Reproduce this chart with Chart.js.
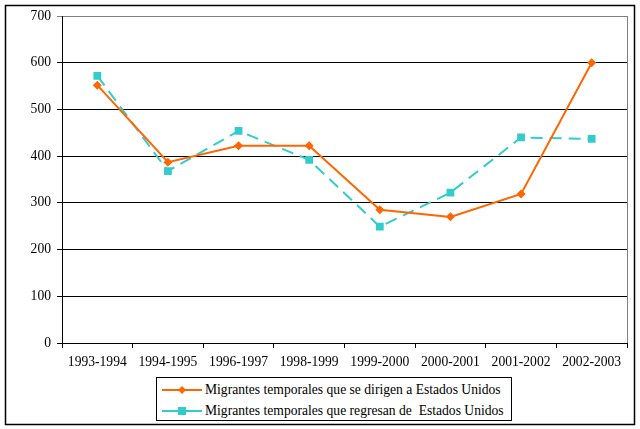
<!DOCTYPE html>
<html>
<head>
<meta charset="utf-8">
<script src="https://cdn.jsdelivr.net/npm/chart.js@4.4.0/dist/chart.umd.min.js"></script>
<style>
  body { margin: 0; background: #fff; }
  #wrap { position: relative; width: 640px; height: 429px; }
  #legend {
    position: absolute; left: 156px; top: 377px; width: 356px; height: 44px;
    border: 1px solid #000; box-sizing: border-box; background: #fff;
    font-family: "Liberation Serif", "DejaVu Serif", serif; font-size: 13.6px; color: #000;
  }
  #legend .row { position: absolute; left: 5px; height: 18px; display: flex; align-items: center; white-space: pre; }
  #legend svg { margin-right: 3px; }
</style>
</head>
<body>
<div id="wrap">
  <canvas id="lineChart" width="640" height="429"></canvas>
  <div id="legend"></div>
</div>
<script>
var categories = ["1993-1994", "1994-1995", "1996-1997", "1998-1999", "1999-2000", "2000-2001", "2001-2002", "2002-2003"];
var seriesNames = ["Migrantes temporales que se dirigen a Estados Unidos", "Migrantes temporales que regresan de  Estados Unidos"];
var dirigen = [552, 387, 422, 422, 285, 270, 319, 600];
var regresan = [572, 368, 454, 392, 249, 322, 440, 437];
var yTicks = [0, 100, 200, 300, 400, 500, 600, 700];

var orange = "#FF6600";
var cyan = "#33CCCC";
var fontFamily = "'Liberation Serif', 'DejaVu Serif', serif";

// frame round the whole picture + gray right edge of the plot
var framePlugin = {
    id: "frame",
    afterDraw: function (chart) {
        var c = chart.ctx, a = chart.chartArea;
        c.save();
        c.strokeStyle = "#808080";
        c.lineWidth = 1;
        c.beginPath();
        c.moveTo(Math.round(a.right) + 0.5, a.top);
        c.lineTo(Math.round(a.right) + 0.5, a.bottom);
        c.stroke();
        c.strokeStyle = "#000";
        c.lineWidth = 1.5;
        c.strokeRect(5.5, 5.5, 629, 419);
        c.restore();
    }
};

var ctx = document.getElementById("lineChart").getContext("2d");
var lineChart = new Chart(ctx, {
    type: "line",
    data: {
        labels: categories,
        datasets: [
            {
                label: seriesNames[0],
                data: dirigen,
                borderColor: orange,
                backgroundColor: orange,
                borderWidth: 2,
                pointStyle: "rectRot",
                pointRadius: 4.5,
                pointBorderWidth: 0,
                tension: 0,
                order: 1
            },
            {
                label: seriesNames[1],
                data: regresan,
                borderColor: cyan,
                backgroundColor: cyan,
                borderWidth: 2,
                borderDash: [12, 7],
                pointStyle: "rect",
                pointRadius: 5.5,
                pointBorderWidth: 0,
                tension: 0,
                order: 2
            }
        ]
    },
    options: {
        responsive: false,
        animation: false,
        layout: { padding: { left: 0, top: 16, right: 13, bottom: 0 } },
        plugins: { legend: { display: false }, tooltip: { enabled: false } },
        scales: {
            x: {
                offset: true,
                grid: { display: true, drawOnChartArea: false, drawTicks: true, tickLength: 5, color: "#000", offset: true },
                border: { color: "#000", width: 1 },
                ticks: { color: "#000", font: { family: fontFamily, size: 13.6 }, padding: 6, maxRotation: 0, autoSkip: false },
                afterFit: function (s) { s.height = 86; }
            },
            y: {
                min: 0,
                max: 700,
                afterBuildTicks: function (s) { s.ticks = yTicks.map(function (v) { return { value: v }; }); },
                grid: {
                    color: function (c) { return c.tick && c.tick.value === 700 ? "#808080" : "#000"; },
                    lineWidth: 1,
                    tickLength: 5
                },
                border: { color: "#000", width: 1 },
                ticks: { color: "#000", font: { family: fontFamily, size: 13.6 }, padding: 6 },
                afterFit: function (s) { s.width = 62; }
            }
        }
    },
    plugins: [framePlugin]
});

// legend as html, line sample with marker in the middle
var legend = document.getElementById("legend");
var marks = [
    '<polygon points="20,5 24,9 20,13 16,9" fill="' + orange + '"/>',
    '<rect x="16" y="5" width="8" height="8" fill="' + cyan + '"/>'
];
var colors = [orange, cyan];
seriesNames.forEach(function (name, i) {
    var row = document.createElement("div");
    row.className = "row";
    row.style.top = (3 + i * 21) + "px";
    row.innerHTML = '<svg width="40" height="18"><line x1="0" y1="9" x2="40" y2="9" stroke="' + colors[i] + '" stroke-width="2"/>' + marks[i] + '</svg>';
    row.appendChild(document.createTextNode(name));
    legend.appendChild(row);
});
</script>
</body>
</html>
